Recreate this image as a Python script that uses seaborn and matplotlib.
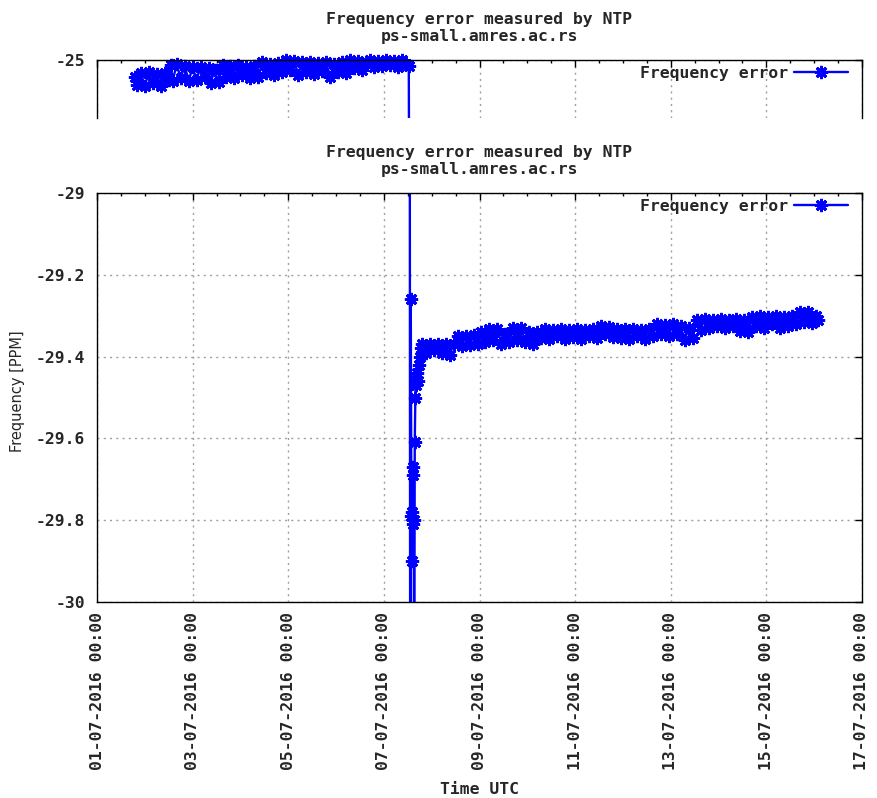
import numpy as np
import pandas as pd
import seaborn as sns
import matplotlib.pyplot as plt
import matplotlib.dates as mdates
from matplotlib.lines import Line2D


# hours after 01-07-2016 00:00 UTC and the frequency error [PPM]
hours = [19, 20, 22, 24, 26, 28, 30, 32, 34, 36, 37, 38, 40, 42, 44, 46, 48, 50, 52, 54,
         56, 57, 59, 61, 63, 65, 67, 69, 71, 73, 75, 77, 79, 81, 83, 85, 87, 89, 91, 93,
         95, 97, 99, 101, 103, 105, 107, 109, 111, 113, 115, 117, 119, 121, 123, 125, 127,
         129, 131, 133, 135, 137, 139, 141, 143, 145, 147, 149, 151, 153, 155, 156.5,
         157.3, 157.5, 157.8, 158.0, 158.2, 158.4, 158.6, 158.8, 159.0, 159.2, 159.5, 159.8,
         160.0, 160.3, 160.6, 161.0, 161.5, 162.0, 162.5,
         163, 165, 167, 169, 171, 173, 175, 177, 179, 181, 183, 185, 187, 189, 191, 193,
         195, 197, 199, 201, 203, 205, 207, 209, 211, 213, 215, 217, 219, 221, 223, 225,
         227, 229, 231, 233, 235, 237, 239, 241, 243, 245, 247, 249, 251, 253, 255, 257,
         259, 261, 263, 265, 267, 269, 271, 273, 275, 277, 279, 281, 283, 285, 287, 289,
         291, 293, 295, 297, 299, 301, 303, 305, 307, 309, 311, 313, 315, 317, 319, 321,
         323, 325, 327, 329, 331, 333, 335, 337, 339, 341, 343, 345, 347, 349, 351, 353,
         355, 357, 359, 361, 362]

freq = [-25.20, -25.30, -25.16, -25.31, -25.15, -25.28, -25.17, -25.31, -25.16, -25.24,
        -25.06, -25.25, -25.05, -25.22, -25.07, -25.25, -25.09, -25.24, -25.08, -25.20,
        -25.10, -25.28, -25.12, -25.27, -25.06, -25.20, -25.07, -25.22, -25.06, -25.18,
        -25.09, -25.22, -25.07, -25.20, -25.03, -25.16, -25.05, -25.18, -25.04, -25.15,
        -25.00, -25.12, -25.01, -25.18, -25.03, -25.14, -25.02, -25.17, -25.04, -25.13,
        -25.03, -25.20, -25.05, -25.15, -25.03, -25.16, -25.00, -25.10, -25.01, -25.12,
        -25.02, -25.00, -25.08, -25.01, -25.07, -25.00, -25.06, -25.01, -25.08, -25.00,
        -25.05, -25.07,
        -31.0, -29.26, -29.79, -29.90, -29.78, -29.81, -29.67, -29.69, -29.80, -30.4,
        -29.61, -29.50, -29.45, -29.47, -29.44, -29.46, -29.42, -29.40, -29.38,
        -29.370, -29.390, -29.370, -29.385, -29.368, -29.390, -29.370, -29.395, -29.370,
        -29.350, -29.375, -29.350, -29.372, -29.348, -29.370, -29.340, -29.365, -29.333,
        -29.360, -29.332, -29.368, -29.345, -29.365, -29.330, -29.360, -29.330, -29.365,
        -29.340, -29.368, -29.340, -29.355, -29.333, -29.357, -29.335, -29.350, -29.333,
        -29.356, -29.334, -29.352, -29.332, -29.356, -29.335, -29.350, -29.333, -29.355,
        -29.326, -29.345, -29.328, -29.352, -29.333, -29.355, -29.333, -29.356, -29.332,
        -29.350, -29.334, -29.356, -29.333, -29.350, -29.320, -29.345, -29.322, -29.350,
        -29.320, -29.345, -29.325, -29.360, -29.330, -29.355, -29.310, -29.335, -29.307,
        -29.330, -29.310, -29.325, -29.307, -29.330, -29.310, -29.325, -29.308, -29.338,
        -29.310, -29.340, -29.302, -29.325, -29.300, -29.330, -29.303, -29.320, -29.300,
        -29.330, -29.302, -29.325, -29.300, -29.320, -29.290, -29.315, -29.292, -29.318,
        -29.300, -29.310]

title = "Frequency error measured by NTP\nps-small.amres.ac.rs"
series_name = "Frequency error"

df = pd.DataFrame({'time': pd.Timestamp('2016-07-01') + pd.to_timedelta(hours, unit='h'),
                   'freq': freq})

sns.set_style('white')
plt.rcParams['font.family'] = ['DejaVu Sans Mono']
plt.rcParams['font.weight'] = 'bold'

BLUE = '#0000ff'
FS = 11.8
star = (8, 2, 0)

fig = plt.figure(figsize=(8.77, 7.98), dpi=100)
W, H = 877.0, 798.0
ax_top = fig.add_axes([97 / W, 1 - 118 / H, 765 / W, 58 / H])
ax = fig.add_axes([97 / W, 1 - 602 / H, 765 / W, 409 / H])

xmin, xmax = pd.Timestamp('2016-07-01'), pd.Timestamp('2016-07-17')


def draw_panel(a, ylo, yhi):
	# line is clipped by the frame, points inside the range are drawn whole
	sns.lineplot(data=df, x='time', y='freq', ax=a, color=BLUE, lw=1.7,
	             estimator=None, sort=False, legend=False)
	inside = df[(df['freq'] >= ylo) & (df['freq'] <= yhi)]
	a.plot(inside['time'], inside['freq'], ls='none', marker=star, ms=9.5, mew=2,
	       color=BLUE, clip_on=False)
	a.set_xlim(xmin, xmax)
	a.set_ylim(ylo, yhi)
	a.xaxis.set_major_locator(mdates.DayLocator(interval=2))
	a.xaxis.set_minor_locator(mdates.HourLocator(byhour=[0, 12]))
	a.xaxis.set_major_formatter(mdates.DateFormatter('%d-%m-%Y %H:%M'))
	a.grid(True, which='major', color='#a0a0a0', ls=(0, (1.5, 3)), lw=1)
	a.tick_params(which='both', direction='in', top=True, right=True, color='black',
	              labelsize=FS)
	a.tick_params(which='major', length=5, width=1, pad=8.5)
	a.tick_params(which='minor', length=2.5, width=1)
	for s in a.spines.values():
		s.set_color('black')
		s.set_linewidth(1.0)
	a.set_title(title, fontsize=FS, fontweight='bold', pad=14, linespacing=1.15)
	handle = Line2D([], [], color=BLUE, lw=1.7, marker=star, ms=9.5, mew=2)
	return handle


# top panel: what is left of the earlier plot
h = draw_panel(ax_top, -25.7, -25.0)
ax_top.set_yticks([-25])
ax_top.set_yticklabels(['-25'])
ax_top.spines['bottom'].set_visible(False)
ax_top.tick_params(which='both', bottom=False, labelbottom=False)
ax_top.set_xlabel('')
ax_top.set_ylabel('')
ax_top.legend([h], [series_name], loc='upper right', frameon=False, markerfirst=False,
              bbox_to_anchor=(1 - 14 / 765, 1 - 6 / 58), borderaxespad=0, borderpad=0,
              handlelength=3.3, handletextpad=0.35, prop={'size': FS, 'weight': 'bold'})

# main panel
h = draw_panel(ax, -30, -29)
ax.set_yticks([-30, -29.8, -29.6, -29.4, -29.2, -29])
ax.set_yticklabels(['-30', '-29.8', '-29.6', '-29.4', '-29.2', '-29'])
ax.tick_params(axis='x', which='major', pad=7)
for lbl in ax.get_xticklabels():
	lbl.set_rotation(90)
	lbl.set_va('top')
	lbl.set_ha('center')
ax.legend([h], [series_name], loc='upper right', frameon=False, markerfirst=False,
          bbox_to_anchor=(1 - 14 / 765, 1 - 6 / 409), borderaxespad=0, borderpad=0,
          handlelength=3.3, handletextpad=0.35, prop={'size': FS, 'weight': 'bold'})

ax.set_xlabel('Time UTC', fontsize=FS, fontweight='bold', va='center')
ax.xaxis.set_label_coords(0.5, -(789 - 602) / 409)
ax.set_ylabel('Frequency [PPM]', fontsize=10.5, fontweight='normal', va='center',
              family=['DejaVu Sans'])
ax.yaxis.set_label_coords(-(97 - 18) / 765, (602 - 391) / 409)

fig.savefig('out.png', dpi=100, facecolor='white')
